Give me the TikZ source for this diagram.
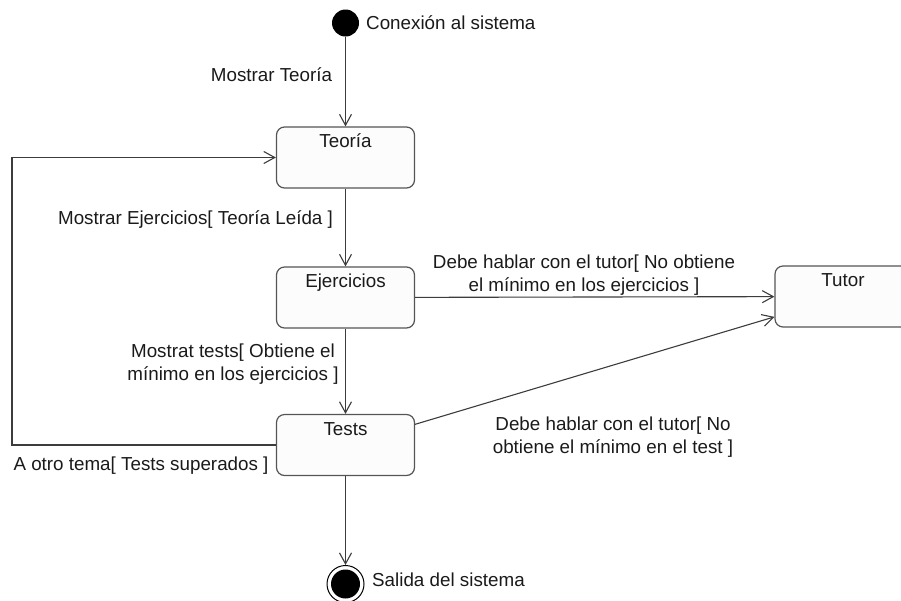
\documentclass[tikz,border=0pt]{standalone}
\usepackage{fontspec}
\setmainfont{Liberation Sans}
\usetikzlibrary{arrows.meta}
\definecolor{linegray}{HTML}{3C3C3C}
\definecolor{boxedge}{HTML}{555555}
\definecolor{boxfill}{HTML}{FCFCFC}
\definecolor{inkcol}{HTML}{1A1A1A}
\begin{document}
\begin{tikzpicture}[x=1pt,y=-1pt,
  font=\fontsize{18.8}{23.5}\selectfont, text=inkcol,
  statebox/.style={draw=boxedge, fill=boxfill, line width=1.2pt,
    rounded corners=8pt, minimum width=138pt, minimum height=61pt,
    inner sep=0pt},
  statename/.style={anchor=base, inner sep=0pt, yshift=-21.5pt},
  flow/.style={draw=linegray, line width=1.1pt,
    -{Straight Barb[length=11pt,width=12pt,line width=1.1pt]}},
  lbl/.style={inner sep=0pt, align=center},
  initial/.style={circle, fill=black, minimum size=27pt, inner sep=0pt},
  finalring/.style={circle, draw=black, line width=1pt, fill=white,
    minimum size=37pt, inner sep=0pt},
  finaldot/.style={circle, fill=black, minimum size=29pt, inner sep=0pt}]
\useasboundingbox (0,0) rectangle (901,600);
\clip (0,0) rectangle (901,600);

% states
\node[initial] (init) at (345.5,23) {};
\node[statebox, label={[statename]north:Teoría}] (teoria) at (345.5,157.5) {};
\node[statebox, label={[statename]north:Ejercicios}] (ejercicios) at (345.5,297.5) {};
\node[statebox, label={[statename]north:Tests}] (tests) at (345.5,445) {};
\node[statebox, minimum width=136pt, label={[statename]north:Tutor}] (tutor) at (843,296.5) {};
\node[finalring] (fin) at (345.5,584) {};
\node[finaldot] (findot) at (fin.center) {};

% state labels beside the pseudo-states
\node[anchor=west, inner sep=0pt] (initlbl) at (366,23) {Conexión al sistema};
\node[anchor=west, inner sep=0pt] (finlbl) at (372,580) {Salida del sistema};

% loop-back column
\coordinate (loopx) at (12,300);

% transitions
\draw[flow] (init) -- (teoria);
\draw[flow] (teoria) -- (ejercicios);
\draw[flow] (ejercicios) -- (tutor);
\draw[flow] (ejercicios) -- (tests);
\draw[flow] (tests) -- (tutor);
\draw[flow] (tests.west) -- (tests.west -| loopx) |- (teoria.west);
\draw[flow] (tests) -- (fin);

% transition labels
\node[lbl] (t1) at (271.5,75) {Mostrar Teoría};
\node[lbl] (t2) at (195.5,220) {Mostrar Ejercicios[ Teoría Leída ]};
\node[lbl] (t3) at (233,364) {Mostrat tests[ Obtiene el\\mínimo en los ejercicios ]};
\node[lbl] (t4) at (584,275) {Debe hablar con el tutor[ No obtiene\\el mínimo en los ejercicios ]};
\node[lbl] (t5) at (613,437) {Debe hablar con el tutor[ No\\obtiene el mínimo en el test ]};
\node[lbl] (t6) at (141,466) {A otro tema[ Tests superados ]};
\end{tikzpicture}
\end{document}
